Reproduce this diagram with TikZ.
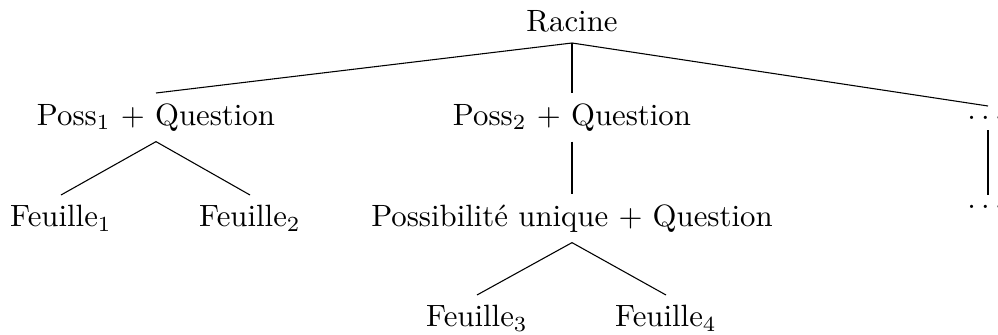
\documentclass[tikz,border=0pt]{standalone}
\usepackage{fontspec}
\newcommand{\spaceddots}{.\kern1.67pt.\kern1.67pt.\kern1.67pt}
\begin{document}
\begin{tikzpicture}[x=0.3247pt,y=-0.3247pt,
  tn/.style={inner sep=3.2pt},
  edge/.style={draw=black,line width=0.35pt}]
\useasboundingbox (0,0) rectangle (998,335);
\node[tn,anchor=south] (root) at (572,43) {Racine};
\node[tn,anchor=north] (p1) at (156,93) {Poss$_1$ $+$ Question};
\node[tn,anchor=north] (p2) at (572,93) {Poss$_2$ $+$ Question};
\node[tn,anchor=north] (d1) at (988,106) {\spaceddots};
\node[tn,anchor=north] (f1) at (61,195) {Feuille$_1$};
\node[tn,anchor=north] (f2) at (250,195) {Feuille$_2$};
\node[tn,anchor=north] (pu) at (572,194) {Possibilité unique $+$ Question};
\node[tn,anchor=north] (d2) at (988,195) {\spaceddots};
\node[tn,anchor=north] (f3) at (477,295) {Feuille$_3$};
\node[tn,anchor=north] (f4) at (666,295) {Feuille$_4$};
\draw[edge] (root.south) -- (p1.north);
\draw[edge] (root.south) -- (p2.north);
\draw[edge] (root.south) -- (d1.north);
\draw[edge] (p1.south) -- (f1.north);
\draw[edge] (p1.south) -- (f2.north);
\draw[edge] (p2.south) -- (pu.north);
\draw[edge] (d1.south) -- (d2.north);
\draw[edge] (pu.south) -- (f3.north);
\draw[edge] (pu.south) -- (f4.north);
\end{tikzpicture}
\end{document}
